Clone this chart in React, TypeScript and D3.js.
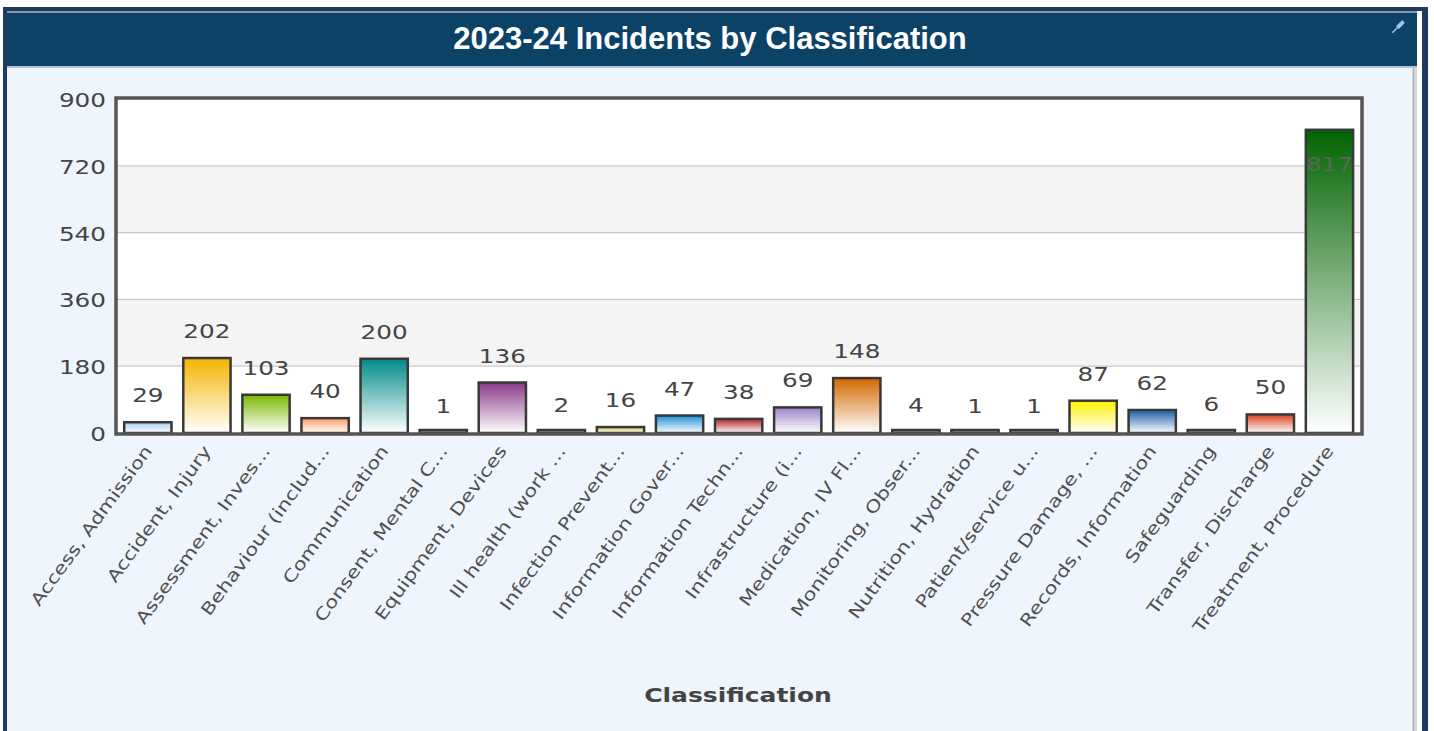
import React from "react";
import * as d3 from "d3";

const TITLE = "2023-24 Incidents by Classification";
const AXIS_TITLE = "Classification";

const categories: string[] = [
  "Access, Admission",
  "Accident, Injury",
  "Assessment, Inves...",
  "Behaviour (includ...",
  "Communication",
  "Consent, Mental C...",
  "Equipment, Devices",
  "Ill health (work ...",
  "Infection Prevent...",
  "Information Gover...",
  "Information Techn...",
  "Infrastructure (i...",
  "Medication, IV Fl...",
  "Monitoring, Obser...",
  "Nutrition, Hydration",
  "Patient/service u...",
  "Pressure Damage, ...",
  "Records, Information",
  "Safeguarding",
  "Transfer, Discharge",
  "Treatment, Procedure",
];

const values: number[] = [29, 202, 103, 40, 200, 1, 136, 2, 16, 47, 38, 69, 148, 4, 1, 1, 87, 62, 6, 50, 817];

const barColors: string[] = [
  "#a9cdf2",
  "#f4b400",
  "#7cb800",
  "#ff9a66",
  "#008a8a",
  "#444444",
  "#8a3a8a",
  "#444444",
  "#cfc640",
  "#1a90d8",
  "#b22222",
  "#9c82c8",
  "#d26800",
  "#444444",
  "#444444",
  "#444444",
  "#fff000",
  "#1c5ca6",
  "#444444",
  "#d8401c",
  "#006400",
];

const yTicks: number[] = [0, 180, 360, 540, 720, 900];
const shadedBands: [number, number][] = [
  [180, 360],
  [540, 720],
];

const W = 1434;
const H = 731;
const plot = { left: 116, right: 1362, top: 98, bottom: 434 };
const MIN_BAR_PX = 3;

export default function App() {
  const x = d3
    .scaleBand<string>()
    .domain(categories)
    .range([118.3, 1359])
    .paddingInner(0.2)
    .paddingOuter(0.1);
  const y = d3.scaleLinear().domain([0, 900]).range([433, 99]);

  const numStyle: React.CSSProperties = {
    fontFamily: "'DejaVu Sans', Verdana, sans-serif",
    fontSize: 19,
    fill: "#444",
  };

  return (
    <svg
      width={W}
      height={H}
      style={{ position: "absolute", left: 0, top: 0, background: "#fff" }}
    >
      <defs>
        {barColors.map((c, i) => (
          <linearGradient key={i} id={`bg${i}`} x1="0" y1="0" x2="0" y2="1">
            <stop offset="0%" stopColor={c} />
            <stop offset="100%" stopColor="#ffffff" />
          </linearGradient>
        ))}
      </defs>

      {/* outer frame */}
      <rect x={3} y={7} width={1425} height={740} fill="#1f3a5c" />
      <rect x={7} y={11} width={1415} height={740} fill="#ffffff" />
      <rect x={7} y={11} width={1410} height={2} fill="#8a9aab" />
      <rect x={7} y={13} width={1410} height={53} fill="#0c4266" />
      <rect x={7} y={66} width={1410} height={2} fill="#b8c2cc" />
      <rect x={7} y={68} width={1406} height={700} fill="#eef5fd" />
      <rect x={1412} y={68} width={5} height={700} fill="#d4d8dd" />
      <rect x={1413} y={68} width={1} height={700} fill="#a8adb3" />

      {/* pin icon */}
      <g transform="translate(1398,27) rotate(45)">
        <rect x={-2} y={-8} width={4} height={9} fill="#9fc3e8" rx={1} />
        <line x1={0} y1={1} x2={0} y2={8} stroke="#9fc3e8" strokeWidth={1.5} />
      </g>

      <text
        x={710}
        y={49}
        textAnchor="middle"
        style={{
          fontFamily: "'Liberation Sans', Arial, sans-serif",
          fontWeight: "bold",
          fontSize: 31,
          fill: "#ffffff",
        }}
      >
        {TITLE}
      </text>

      {/* plot background */}
      <rect
        x={plot.left}
        y={plot.top}
        width={plot.right - plot.left}
        height={plot.bottom - plot.top}
        fill="#ffffff"
      />
      {shadedBands.map(([a, b], i) => (
        <rect
          key={i}
          x={plot.left}
          y={y(b)}
          width={plot.right - plot.left}
          height={y(a) - y(b)}
          fill="#f4f4f4"
        />
      ))}
      {yTicks
        .filter((t) => t > 0 && t < 900)
        .map((t) => (
          <line
            key={t}
            x1={plot.left}
            x2={plot.right}
            y1={y(t)}
            y2={y(t)}
            stroke="#c9c9c9"
            strokeWidth={1.2}
          />
        ))}

      {/* bars */}
      {categories.map((c, i) => {
        const bx = x(c)!;
        const by = Math.min(y(values[i]), y(0) - MIN_BAR_PX);
        return (
          <rect
            key={c}
            x={bx}
            y={by}
            width={x.bandwidth()}
            height={y(0) - by}
            fill={`url(#bg${i})`}
            stroke="#383838"
            strokeWidth={2.5}
          />
        );
      })}

      {/* plot border */}
      <rect
        x={plot.left}
        y={plot.top}
        width={plot.right - plot.left}
        height={plot.bottom - plot.top}
        fill="none"
        stroke="#555"
        strokeWidth={3.5}
      />

      {/* value labels */}
      {categories.map((c, i) => {
        const cx = x(c)! + x.bandwidth() / 2;
        const top = y(values[i]);
        const outside = top - 20 - 15 > plot.top;
        const ly = outside ? top - 20 : top + 41;
        return (
          <text
            key={c}
            transform={`translate(${cx},${ly}) scale(1.3,1)`}
            textAnchor="middle"
            style={{ ...numStyle, fill: outside ? "#444" : "#666", opacity: outside ? 1 : 0.8 }}
          >
            {values[i]}
          </text>
        );
      })}

      {/* y tick labels */}
      {yTicks.map((t) => (
        <text
          key={t}
          transform={`translate(106,${y(t) + 8}) scale(1.3,1)`}
          textAnchor="end"
          style={numStyle}
        >
          {t}
        </text>
      ))}

      {/* x labels */}
      {categories.map((c) => {
        const cx = x(c)! + x.bandwidth() / 2;
        return (
          <text
            key={c}
            transform={`translate(${cx + 5},${451}) rotate(-54) scale(1.24,1)`}
            textAnchor="end"
            style={{
              fontFamily: "'DejaVu Sans', Verdana, sans-serif",
              fontSize: 17,
              fill: "#505050",
            }}
          >
            {c}
          </text>
        );
      })}

      <text
        transform="translate(738,702) scale(1.25,1)"
        textAnchor="middle"
        style={{
          fontFamily: "'DejaVu Sans', Verdana, sans-serif",
          fontWeight: "bold",
          fontSize: 20,
          fill: "#444",
        }}
      >
        {AXIS_TITLE}
      </text>
    </svg>
  );
}
